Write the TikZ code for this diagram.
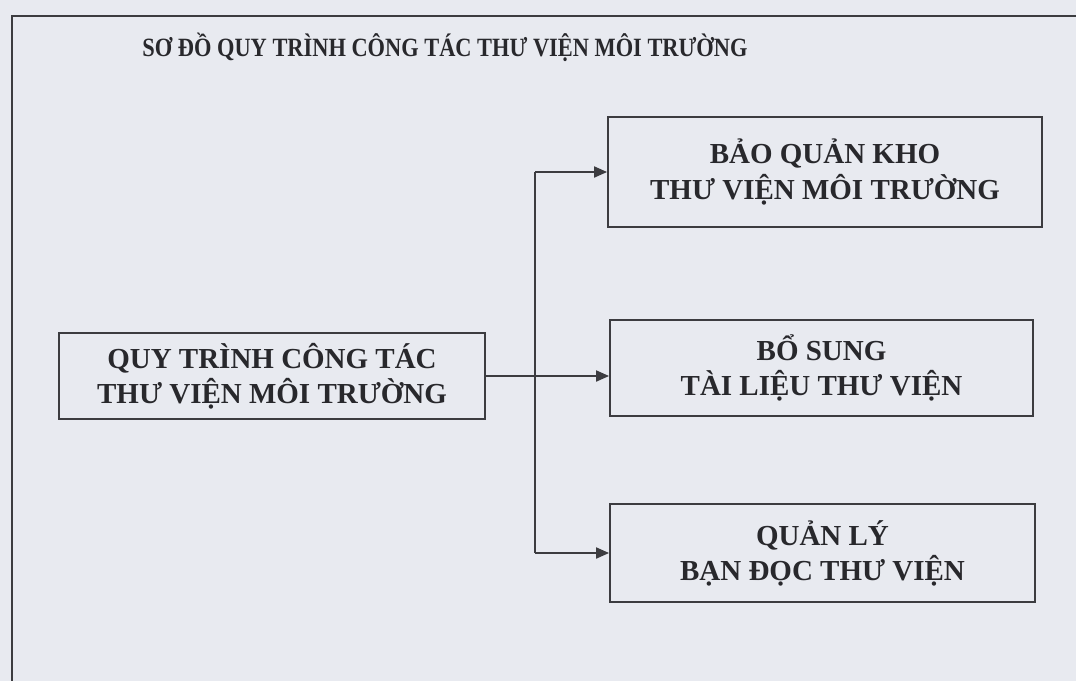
\documentclass[tikz,border=0pt]{standalone}
\usepackage{fontspec}
\setmainfont{Liberation Serif}
\usepackage{tikz}
\usetikzlibrary{arrows.meta, positioning, calc}

\definecolor{scanpaper}{RGB}{232,234,240}
\definecolor{inkline}{RGB}{60,60,64}
\definecolor{inktext}{RGB}{40,40,44}

\begin{document}
\begin{tikzpicture}[x=0.02cm, y=-0.02cm,
    boxnode/.style={draw=inkline, line width=1.1pt, align=center, text=inktext,
      font=\bfseries\fontsize{16.5}{20}\selectfont, inner sep=0pt},
    link/.style={draw=inkline, line width=1.1pt},
    arrowlink/.style={link, -{Triangle[length=2.6mm, width=2.2mm]}}]
  % fond et cadre
  \fill[scanpaper] (0,0) rectangle (1076,681);
  \useasboundingbox (0,0) rectangle (1076,681);
  \draw[link] (1076,16) -- (12,16) -- (12,681);

  % titre
  \node[text=inktext, anchor=base, font=\bfseries\fontsize{15}{18}\selectfont] (title) at (445,56)
    {\scalebox{0.85}[1]{SƠ ĐỒ QUY TRÌNH CÔNG TÁC THƯ VIỆN MÔI TRƯỜNG}};

  % boîtes
  \node[boxnode, minimum width=8.52cm, minimum height=1.72cm] (quytrinh) at (272,376)
    {QUY TRÌNH CÔNG TÁC\\THƯ VIỆN MÔI TRƯỜNG};
  \node[boxnode, minimum width=8.68cm, minimum height=2.2cm] (baoquan) at (825,172)
    {BẢO QUẢN KHO\\THƯ VIỆN MÔI TRƯỜNG};
  \node[boxnode, minimum width=8.46cm, minimum height=1.92cm] (bosung) at (821.5,368)
    {BỔ SUNG\\TÀI LIỆU THƯ VIỆN};
  \node[boxnode, minimum width=8.5cm, minimum height=1.96cm] (quanly) at (822.5,553)
    {QUẢN LÝ\\BẠN ĐỌC THƯ VIỆN};

  % liaisons
  \coordinate (bus) at (535,0);
  \draw[link] (baoquan.west -| bus) -- (quanly.west -| bus);
  \draw[arrowlink] (quytrinh.east) -- (quytrinh.east -| bosung.west);
  \draw[arrowlink] (baoquan.west -| bus) -- (baoquan.west);
  \draw[arrowlink] (quanly.west -| bus) -- (quanly.west);
\end{tikzpicture}
\end{document}
